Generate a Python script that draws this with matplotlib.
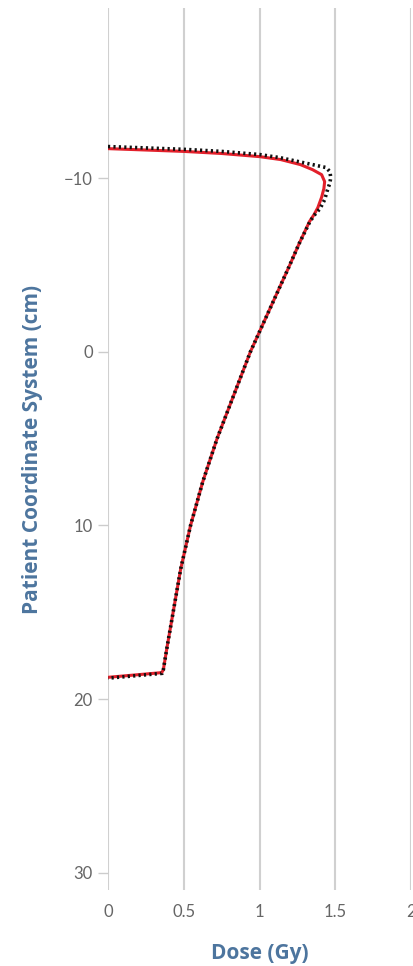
import numpy as np
import matplotlib
matplotlib.use('Agg')
import matplotlib.pyplot as plt

# depth dose profile: dose (Gy) against position in patient coordinates (cm)
measured_dose = [0.00, 0.50, 0.75, 1.00, 1.14, 1.27, 1.35, 1.41, 1.43, 1.425, 1.41, 1.385, 1.36,
                 1.33, 1.26, 1.20, 1.07, 0.94, 0.83, 0.72, 0.625, 0.545, 0.48, 0.43, 0.39, 0.365,
                 0.354, 0.00]
measured_pos = [-11.70, -11.54, -11.42, -11.24, -11.07, -10.78, -10.49, -10.20, -9.80, -9.40, -8.90,
                -8.30, -7.90, -7.50, -6.20, -5.00, -2.50, 0.00, 2.50, 5.00, 7.50, 10.00, 12.50,
                15.00, 17.00, 18.33, 18.48, 18.75]

calc_dose = [0.00, 0.50, 0.75, 1.00, 1.135, 1.35, 1.44, 1.465, 1.47, 1.465, 1.445, 1.43, 1.40,
             1.36, 1.33, 1.26, 1.20, 1.07, 0.94, 0.83, 0.72, 0.625, 0.545, 0.48, 0.43, 0.39,
             0.365, 0.358, 0.00]
calc_pos = [-11.82, -11.66, -11.54, -11.36, -11.18, -10.78, -10.61, -10.37, -10.03, -9.74, -9.22,
            -8.76, -8.25, -7.85, -7.45, -6.20, -5.00, -2.50, 0.00, 2.50, 5.00, 7.50, 10.00,
            12.50, 15.00, 17.00, 18.33, 18.52, 18.80]

dose_ticks = [0, 0.5, 1, 1.5, 2]
dose_tick_labels = ['0', '0.5', '1', '1.5', '2']
pos_ticks = [-10, 0, 10, 20, 30]

title_color = '#4d759e'
label_color = '#666666'
grid_color = '#d0d0d0'

plt.rcParams['font.family'] = ['Lato', 'DejaVu Sans']

fig = plt.figure(figsize=(4.13, 9.66), dpi=100)
W, H = 413.0, 966.0
ax = fig.add_axes([108 / W, 1 - 890 / H, (411 - 108) / W, (890 - 8) / H])

ax.set_xlim(0, 2)
ax.set_ylim(31.0, -19.8)

for x in dose_ticks:
    ax.axvline(x, color=grid_color, lw=1.5, zorder=1)

ax.plot(measured_dose, measured_pos, color='#e3202b', lw=2.2, zorder=3,
        solid_joinstyle='round')
ax.plot(calc_dose, calc_pos, color='#111111', lw=2.6, linestyle=(0, (0.6, 0.9)),
        zorder=4)

for s in ax.spines.values():
    s.set_visible(False)

ax.set_xticks(dose_ticks)
ax.set_xticklabels(dose_tick_labels)
ax.set_yticks(pos_ticks)
ax.tick_params(axis='x', length=0, pad=10, labelsize=12, labelcolor=label_color)
ax.tick_params(axis='y', length=7, width=1, color='#cccccc', pad=4,
               labelsize=12, labelcolor=label_color)
ax.yaxis.set_major_formatter(matplotlib.ticker.FuncFormatter(
    lambda v, p: ('\u2212%d' % -v) if v < 0 else '%d' % v))

ax.set_xlabel('Dose (Gy)', color=title_color, fontsize=15, fontweight='bold',
              family=['Open Sans', 'DejaVu Sans'], labelpad=17)
ax.set_ylabel('Patient Coordinate System (cm)', color=title_color, fontsize=15,
              fontweight='bold', family=['Open Sans', 'DejaVu Sans'], labelpad=15)

fig.savefig('out.png', dpi=100)
